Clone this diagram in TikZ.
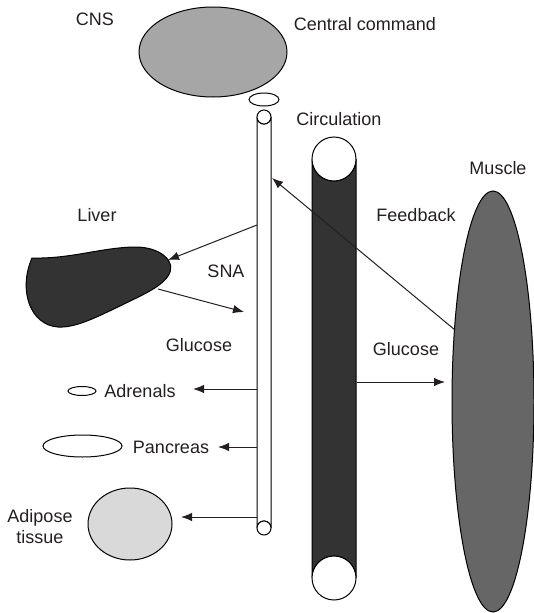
\documentclass[tikz,border=0pt]{standalone}
\usepackage{fontspec}
\setmainfont{Liberation Sans}
\usetikzlibrary{arrows.meta}

\definecolor{cnsgray}{HTML}{A6A6A6}
\definecolor{darkfill}{HTML}{333333}
\definecolor{musclegray}{HTML}{666666}
\definecolor{fatgray}{HTML}{D9D9D9}
\definecolor{inkgray}{HTML}{231F20}

\tikzset{
  lbl/.style={text=inkgray, font=\fontsize{18}{21}\selectfont, inner sep=0pt, align=center},
  organ/.style={draw=black, line width=1pt},
  flow/.style={draw=inkgray, line width=1pt, -{Latex[length=11pt,width=8.5pt]}}
}

\begin{document}
\begin{tikzpicture}[x=1pt,y=-1pt]

\useasboundingbox (0,0) rectangle (534,613);

\draw[organ, fill=cnsgray] (213,52) ellipse (74 and 45);   % CNS
\draw[organ, fill=white] (264,99.5) ellipse (15 and 6.5);

% SNA tube
\draw[organ, fill=white] (257,117) -- (257,528) arc (180:360:7) -- (271,117) arc (0:180:7) -- cycle;
\draw[organ, fill=white] (264,117) circle (7);
\draw[organ, fill=white] (264,528) circle (7);

% circulation
\draw[organ, fill=darkfill] (312,159) -- (312,578) arc (180:360:22) -- (356,159) arc (0:180:22) -- cycle;
\draw[organ, fill=white] (334,159) circle (22);
\draw[organ, fill=white] (334,578) circle (22);

\draw[organ, fill=musclegray] (493,401.5) ellipse (41 and 210.5);   % muscle

% liver
\draw[organ, fill=darkfill] (32,258) .. controls (70,259) and (100,248) .. (133,247)
  .. controls (160,246) and (178,262) .. (168,276)
  .. controls (160,288) and (140,296) .. (120,306)
  .. controls (95,318) and (75,328) .. (58,327)
  .. controls (30,325) and (18,290) .. (32,258) -- cycle;

\draw[organ] (82,391) ellipse (14 and 4.5);      % adrenals
\draw[organ] (82.5,446) ellipse (39.5 and 11);   % pancreas
\draw[organ, fill=fatgray] (130,524) ellipse (42 and 36);   % adipose

\coordinate (snaOut) at (257,225);
\coordinate (liverIn) at (168,260);
\coordinate (liverOut) at (158,289);
\coordinate (gluIn) at (244,312);
\coordinate (adrOut) at (257,389);
\coordinate (adrIn) at (193,389);
\coordinate (panOut) at (257,447);
\coordinate (panIn) at (218,447);
\coordinate (fatOut) at (257,517);
\coordinate (fatIn) at (181,517);
\coordinate (circOut) at (357,382);
\coordinate (muscIn) at (445,382);
\coordinate (fbOut) at (455,330);
\coordinate (fbIn) at (272,178);

\draw[flow] (snaOut) -- (liverIn);
\draw[flow] (liverOut) -- (gluIn);
\draw[flow] (adrOut) -- (adrIn);
\draw[flow] (panOut) -- (panIn);
\draw[flow] (fatOut) -- (fatIn);
\draw[flow] (circOut) -- (muscIn);
\draw[flow] (fbOut) -- (fbIn);

\node[lbl] (cns) at (95,19) {CNS};
\node[lbl] (central) at (365,24) {Central command};
\node[lbl] (circulation) at (339,119) {Circulation};
\node[lbl] (muscle) at (498,168) {Muscle};
\node[lbl] (feedback) at (416,215) {Feedback};
\node[lbl] (liver) at (97,215) {Liver};
\node[lbl] (sna) at (226,271) {SNA};
\node[lbl] (glucoseL) at (199,345) {Glucose};
\node[lbl] (glucoseR) at (406,349) {Glucose};
\node[lbl] (adrenals) at (140,391) {Adrenals};
\node[lbl] (pancreas) at (171,447) {Pancreas};
\node[lbl] (adipose) at (40,527) {Adipose\\tissue};

\end{tikzpicture}
\end{document}
